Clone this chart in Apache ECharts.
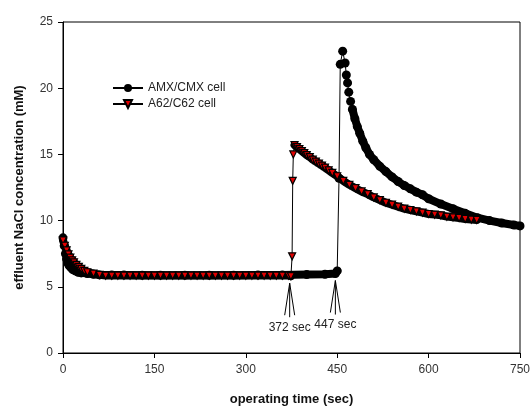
<!DOCTYPE html>
<html>
<head>
<meta charset="utf-8">
<script src="https://cdn.jsdelivr.net/npm/echarts@6/dist/echarts.min.js"></script>
<style>
html, body { margin: 0; padding: 0; background: #fff; }
#chart { width: 531px; height: 407px; }
</style>
</head>
<body>
<div id="chart"></div>
<script>
'use strict';

// AMX/CMX cell: operating time (sec) and effluent NaCl (mM)
const amxTime = [0, 2, 4, 6, 8, 10, 13, 16, 20, 25, 30, 40, 50, 60,
    80, 100, 130, 160, 200, 240, 280, 320, 360, 400, 430, 447,
    450, 453, 455, 459, 463, 465, 467, 469, 472, 475, 479, 483, 487, 492, 497, 503,
    510, 520, 530, 540, 550, 560, 570, 580, 590, 600, 620, 640, 660, 680, 700, 720, 740, 750];
const amxConc = [8.7, 8.1, 7.5, 7.1, 6.8, 6.6, 6.45, 6.3, 6.2, 6.1, 6.05, 6.0, 5.95, 5.9,
    5.9, 5.9, 5.88, 5.88, 5.88, 5.88, 5.88, 5.9, 5.9, 5.92, 5.95, 6.0,
    6.2, 13.2, 21.8, 22.8, 21.9, 21.0, 20.4, 19.7, 19.0, 18.4, 17.7, 17.1, 16.6, 16.0, 15.5, 15.0,
    14.6, 14.1, 13.7, 13.3, 12.95, 12.65, 12.4, 12.15, 11.95, 11.65, 11.25, 10.9, 10.55, 10.22, 10.0, 9.82, 9.67, 9.6];

// A62/C62 cell
const a62Time = [0, 3, 6, 9, 12, 15, 18, 22, 26, 30, 35, 40, 50, 60, 70,
    80, 90, 100, 110, 120, 130, 140, 150, 160, 170, 180, 190, 200, 210, 220,
    230, 240, 250, 260, 270, 280, 290, 300, 310, 320, 330, 340, 350, 360, 370,
    374, 376, 377, 378, 380, 384, 388, 392, 396, 400, 405, 410, 415, 420, 425, 430, 436, 442, 450,
    460, 470, 480, 490, 500, 510, 520, 530, 540, 550, 560, 570, 580, 590, 600, 610, 620, 630, 640,
    650, 660, 670, 679];
const a62Conc = [8.5, 8.1, 7.75, 7.45, 7.2, 7.0, 6.85, 6.65, 6.5, 6.35, 6.2, 6.1, 6.0, 5.9, 5.85,
    5.85, 5.85, 5.85, 5.85, 5.85, 5.85, 5.85, 5.85, 5.85, 5.85, 5.85, 5.85, 5.85, 5.85, 5.85,
    5.85, 5.85, 5.85, 5.85, 5.85, 5.85, 5.85, 5.85, 5.85, 5.85, 5.85, 5.85, 5.85, 5.85, 5.85,
    5.8, 7.3, 13.0, 15.0, 15.7, 15.55, 15.4, 15.25, 15.1, 14.95, 14.8, 14.6, 14.45, 14.3, 14.15, 14.0, 13.8, 13.6, 13.35,
    13.0, 12.7, 12.45, 12.2, 12.0, 11.75, 11.55, 11.35, 11.2, 11.05, 10.9, 10.8, 10.7, 10.6, 10.5, 10.45, 10.4, 10.3, 10.25,
    10.2, 10.12, 10.08, 10.05];

// annotations
const markTimes = [372, 447];
const markConc = [5.8, 6.0];
const markLabels = ['372 sec', '447 sec'];

const xTicks = {min: 0, max: 750, interval: 150};
const yTicks = {min: 0, max: 25, interval: 5};

const font = 'Liberation Sans, Arial, sans-serif';

function pairs(ts, vs) {
    return ts.map((t, i) => [t, vs[i]]);
}

// the dense marker band: split where the curve jumps steeply
function bandRuns(ts, vs) {
    const runs = [];
    let cur = [[ts[0], vs[0]]];
    for (let i = 1; i < ts.length; i++) {
        const slope = Math.abs(vs[i] - vs[i - 1]) / (ts[i] - ts[i - 1]);
        if (slope > 0.2) {
            if (cur.length > 1) runs.push(cur);
            cur = [];
        }
        cur.push([ts[i], vs[i]]);
    }
    if (cur.length > 1) runs.push(cur);
    return runs;
}

function bandSeries(ts, vs, id) {
    return bandRuns(ts, vs).map((run, k) => ({
        id: id + k,
        type: 'line',
        data: run,
        symbol: 'none',
        silent: true,
        animation: false,
        lineStyle: {color: '#000', width: 8, cap: 'round', join: 'round'},
        z: 2
    }));
}

const chart = echarts.init(document.getElementById('chart'));

chart.setOption({
    animation: false,
    backgroundColor: '#fff',
    grid: {
        left: 63, right: 11, top: 22, bottom: 54,
        outerBoundsMode: 'none', containLabel: false,
        show: true, borderColor: '#000', borderWidth: 1, backgroundColor: 'transparent'
    },
    legend: {
        data: ['AMX/CMX cell', 'A62/C62 cell'],
        orient: 'vertical',
        left: 107,
        top: 77,
        itemWidth: 30,
        itemHeight: 10,
        itemGap: 4,
        textStyle: {fontFamily: font, fontSize: 12, color: '#222'}
    },
    xAxis: {
        type: 'value',
        min: xTicks.min, max: xTicks.max, interval: xTicks.interval,
        name: 'operating time (sec)',
        nameLocation: 'middle',
        nameGap: 40,
        nameTextStyle: {fontFamily: font, fontSize: 13, fontWeight: 'bold', color: '#111'},
        axisLine: {lineStyle: {color: '#000', width: 1}},
        axisTick: {length: 5, lineStyle: {color: '#000'}},
        axisLabel: {fontFamily: font, fontSize: 12, color: '#333', margin: 11},
        splitLine: {show: false}
    },
    yAxis: {
        type: 'value',
        min: yTicks.min, max: yTicks.max, interval: yTicks.interval,
        name: 'effluent NaCl concentration (mM)',
        nameLocation: 'middle',
        nameGap: 37,
        nameTextStyle: {fontFamily: font, fontSize: 13, fontWeight: 'bold', color: '#111'},
        axisLine: {lineStyle: {color: '#000', width: 1}},
        axisTick: {length: 5, lineStyle: {color: '#000'}},
        axisLabel: {fontFamily: font, fontSize: 12, color: '#333', margin: 10},
        splitLine: {show: false}
    },
    series: [
        ...bandSeries(amxTime, amxConc, 'amxBand'),
        {
            name: 'AMX/CMX cell',
            type: 'line',
            data: pairs(amxTime, amxConc),
            symbol: 'circle',
            symbolSize: 9,
            showAllSymbol: true,
            itemStyle: {color: '#000'},
            lineStyle: {color: '#000', width: 1},
            z: 3
        },
        ...bandSeries(a62Time, a62Conc, 'a62Band'),
        {
            name: 'A62/C62 cell',
            type: 'line',
            data: pairs(a62Time, a62Conc),
            symbol: 'triangle',
            symbolRotate: 180,
            symbolSize: 7,
            showAllSymbol: true,
            itemStyle: {color: '#e00000', borderColor: '#000', borderWidth: 1.2},
            lineStyle: {color: '#000', width: 1},
            z: 5
        }
    ]
});

// arrows with time labels under the jumps
const graphics = [];
markTimes.forEach((t, i) => {
    const p = chart.convertToPixel({gridIndex: 0}, [t, markConc[i]]);
    const ax = p[0];
    const ay = p[1] + 7;
    graphics.push({
        type: 'polyline',
        shape: {points: [[ax - 5, ay + 32], [ax, ay], [ax + 5, ay + 32]]},
        style: {stroke: '#000', lineWidth: 1, fill: null},
        z: 10
    });
    graphics.push({
        type: 'line',
        shape: {x1: ax, y1: ay, x2: ax, y2: ay + 34},
        style: {stroke: '#000', lineWidth: 1},
        z: 10
    });
    graphics.push({
        type: 'text',
        x: ax,
        y: ay + 38,
        style: {text: markLabels[i], fontFamily: font, fontSize: 12, fill: '#222', align: 'center', verticalAlign: 'top'},
        z: 10
    });
});
chart.setOption({graphic: graphics});
</script>
</body>
</html>
